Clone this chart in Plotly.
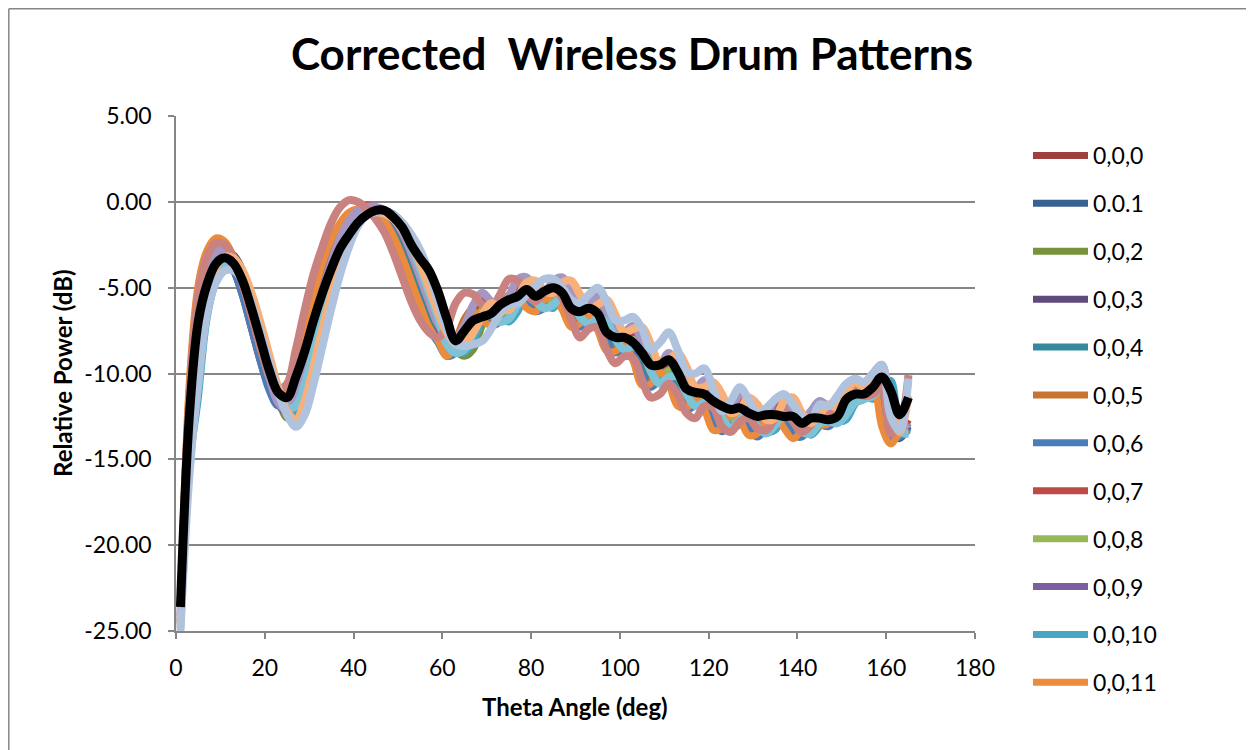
import plotly.graph_objects as go

theta = [1, 3, 5, 7, 9, 11, 13, 15, 17, 19, 21, 23, 25, 27, 29, 31, 33, 35, 37, 39,
         41, 43, 45, 47, 49, 51, 53, 55, 57, 59, 61, 63, 65, 67, 69, 71, 73, 75, 77, 79,
         81, 83, 85, 87, 89, 91, 93, 95, 97, 99, 101, 103, 105, 107, 109, 111, 113, 115, 117, 119,
         121, 123, 125, 127, 129, 131, 133, 135, 137, 139, 141, 143, 145, 147, 149, 151, 153, 155, 157, 159,
         161, 163, 165]

s000 = [-24.2, -12.0, -5.7, -3.7, -2.9, -3.1, -4.0, -5.5, -7.4, -9.3, -10.9, -11.8, -11.5, -10.1, -8.2, -6.3, -4.5, -2.9, -1.7, -0.9,
        -0.5, -0.4, -0.5, -0.9, -1.6, -2.6, -3.9, -5.3, -6.7, -7.7, -8.4, -8.2, -7.2, -6.3, -6.2, -6.6, -6.4, -5.6, -5.1, -5.4,
        -5.8, -5.6, -5.1, -5.4, -6.3, -6.7, -6.4, -6.6, -7.6, -8.2, -8.0, -8.3, -9.5, -10.2, -9.8, -9.8, -10.8, -11.5, -11.3, -11.3,
        -12.2, -12.8, -12.3, -12.0, -12.7, -13.1, -12.6, -12.0, -12.3, -13.0, -13.1, -12.5, -12.4, -12.5, -12.0, -11.3, -11.1, -10.9, -10.4, -11.4,
        -13.2, -13.4, -13.0]
s001 = [-24.0, -13.0, -7.0, -4.3, -3.0, -2.8, -3.4, -4.6, -6.4, -8.3, -10.2, -11.6, -12.0, -11.0, -9.2, -7.2, -5.3, -3.6, -2.2, -1.2,
        -0.6, -0.4, -0.4, -0.6, -1.1, -2.0, -3.2, -4.6, -6.0, -7.3, -8.4, -8.6, -7.9, -6.7, -6.0, -6.5, -6.8, -6.2, -5.2, -5.1,
        -5.8, -6.0, -5.3, -5.1, -5.9, -6.9, -6.7, -6.2, -7.1, -8.3, -8.3, -7.9, -8.9, -10.3, -10.2, -9.5, -10.2, -11.5, -11.6, -11.1,
        -11.7, -12.9, -12.8, -11.9, -12.3, -13.2, -13.1, -12.2, -12.0, -12.8, -13.4, -12.9, -12.3, -12.6, -12.5, -11.6, -11.1, -11.3, -10.7, -10.2,
        -12.7, -13.8, -13.1]
s002 = [-24.3, -14.0, -10.0, -5.7, -3.7, -2.9, -3.1, -4.0, -5.5, -7.4, -9.5, -11.4, -12.6, -12.2, -10.6, -8.4, -6.3, -4.5, -2.9, -1.7,
        -0.9, -0.5, -0.4, -0.5, -0.9, -1.6, -2.6, -3.9, -5.3, -6.7, -7.9, -8.7, -9.0, -8.6, -7.2, -6.2, -6.4, -6.3, -5.6, -4.9,
        -5.2, -5.9, -5.8, -5.0, -5.3, -6.2, -6.6, -6.2, -6.4, -7.5, -8.1, -7.9, -8.2, -9.4, -10.1, -9.7, -9.7, -10.7, -11.4, -11.2,
        -11.3, -12.2, -12.8, -12.3, -12.0, -12.7, -13.1, -12.6, -12.0, -12.3, -13.0, -13.1, -12.5, -12.3, -12.4, -11.9, -11.2, -11.1, -10.9, -10.3,
        -11.3, -13.1, -13.3]
s003 = [-24.4, -14.2, -9.8, -5.6, -3.6, -2.9, -3.1, -4.0, -5.5, -7.3, -9.2, -10.9, -11.8, -11.6, -10.2, -8.2, -6.2, -4.4, -2.9, -1.7,
        -0.9, -0.5, -0.4, -0.5, -0.8, -1.5, -2.6, -3.9, -5.3, -6.6, -7.5, -8.0, -7.8, -6.8, -5.9, -5.8, -6.2, -6.0, -5.2, -4.7,
        -5.0, -5.4, -5.2, -4.7, -5.0, -5.9, -6.3, -6.0, -6.2, -7.2, -7.8, -7.6, -7.9, -9.1, -9.8, -9.4, -9.4, -10.4, -11.1, -10.9,
        -10.9, -11.8, -12.4, -11.9, -11.6, -12.3, -12.7, -12.2, -11.6, -11.9, -12.6, -12.7, -12.1, -12.0, -12.1, -11.6, -10.9, -10.7, -10.5, -10.0,
        -11.0, -12.8, -13.0]
s004 = [-24.1, -12.2, -6.0, -3.9, -3.1, -3.2, -4.0, -5.4, -7.3, -9.2, -10.8, -11.7, -11.4, -10.0, -8.1, -6.2, -4.4, -2.9, -1.8, -1.0,
        -0.6, -0.5, -0.6, -0.9, -1.6, -2.6, -3.9, -5.3, -6.7, -7.8, -8.6, -8.4, -7.4, -6.5, -6.4, -6.8, -6.6, -5.8, -5.3, -5.6,
        -6.0, -5.8, -5.3, -5.6, -6.5, -6.9, -6.6, -6.8, -7.8, -8.4, -8.2, -8.5, -9.7, -10.4, -10.0, -10.0, -11.0, -11.7, -11.5, -11.5,
        -12.4, -13.0, -12.5, -12.2, -12.9, -13.3, -12.8, -12.2, -12.5, -13.2, -13.3, -12.7, -12.6, -12.7, -12.2, -11.5, -11.3, -11.1, -10.6, -11.6,
        -13.4, -13.5, -12.9]
s005 = [-23.8, -11.0, -5.2, -3.2, -2.4, -2.6, -3.5, -5.0, -6.9, -8.9, -10.6, -11.6, -11.2, -9.6, -7.5, -5.5, -3.8, -2.4, -1.3, -0.7,
        -0.5, -0.5, -0.7, -1.2, -2.1, -3.3, -4.7, -6.1, -7.3, -8.1, -8.6, -8.0, -6.8, -6.2, -6.7, -7.0, -6.4, -5.4, -5.3, -6.0,
        -6.2, -5.5, -5.3, -6.1, -7.1, -6.9, -6.4, -7.3, -8.5, -8.5, -8.1, -9.1, -10.5, -10.4, -9.7, -10.4, -11.7, -11.8, -11.3, -11.9,
        -13.1, -13.0, -12.1, -12.5, -13.4, -13.3, -12.4, -12.2, -13.0, -13.6, -13.1, -12.5, -12.8, -12.7, -11.8, -11.3, -11.5, -10.9, -10.4, -12.9,
        -14.0, -13.3, -13.0]
s006 = [-24.2, -11.5, -5.7, -3.7, -2.9, -3.1, -4.0, -5.5, -7.4, -9.3, -11.0, -11.9, -11.3, -9.3, -7.3, -5.4, -3.7, -2.3, -1.3, -0.7,
        -0.5, -0.5, -0.7, -1.2, -2.1, -3.3, -4.7, -6.1, -7.4, -8.2, -9.0, -8.8, -7.8, -6.9, -6.8, -7.2, -7.0, -6.2, -5.7, -6.0,
        -6.4, -6.2, -5.7, -6.0, -6.9, -7.3, -7.0, -7.2, -8.2, -8.8, -8.6, -8.9, -10.1, -10.8, -10.4, -10.4, -11.4, -12.1, -11.9, -11.9,
        -12.8, -13.4, -12.9, -12.6, -13.3, -13.7, -13.2, -12.6, -12.9, -13.6, -13.7, -13.1, -13.0, -13.1, -12.6, -11.9, -11.7, -11.5, -11.0, -12.0,
        -13.8, -13.7, -13.2]
s007 = [-24.0, -12.8, -6.8, -4.1, -2.9, -2.7, -3.3, -4.5, -6.3, -8.2, -10.1, -11.5, -11.9, -10.9, -9.0, -7.0, -5.1, -3.4, -2.0, -1.0,
        -0.4, -0.2, -0.3, -0.5, -1.0, -1.9, -3.1, -4.5, -5.9, -7.2, -8.0, -8.2, -7.5, -6.3, -5.6, -6.1, -6.4, -5.8, -4.8, -4.7,
        -5.4, -5.6, -4.9, -4.7, -5.5, -6.5, -6.3, -5.8, -6.7, -7.9, -7.9, -7.5, -8.5, -9.9, -9.8, -9.1, -9.8, -11.1, -11.2, -10.7,
        -11.3, -12.5, -12.4, -11.5, -11.9, -12.8, -12.7, -11.8, -11.6, -12.4, -13.0, -12.5, -11.9, -12.2, -12.1, -11.2, -10.7, -10.9, -10.3, -9.8,
        -12.3, -13.4, -12.7]
s008 = [-24.5, -14.3, -10.2, -5.8, -3.8, -3.0, -3.2, -4.1, -5.6, -7.4, -9.3, -11.0, -11.9, -11.6, -10.2, -8.3, -6.3, -4.5, -3.0, -1.8,
        -1.0, -0.6, -0.5, -0.6, -0.9, -1.6, -2.7, -4.0, -5.4, -6.8, -7.9, -8.4, -8.2, -7.2, -6.3, -6.2, -6.6, -6.4, -5.6, -5.1,
        -5.4, -5.8, -5.6, -5.1, -5.4, -6.3, -6.7, -6.4, -6.6, -7.6, -8.2, -8.0, -8.3, -9.5, -10.2, -9.8, -9.8, -10.8, -11.5, -11.3,
        -11.3, -12.2, -12.8, -12.3, -12.0, -12.7, -13.1, -12.6, -12.0, -12.3, -13.0, -13.1, -12.5, -12.4, -12.5, -12.0, -11.3, -11.1, -10.9, -10.4,
        -11.4, -13.2, -13.4]
s009 = [-24.3, -13.3, -7.3, -4.5, -3.2, -3.0, -3.5, -4.7, -6.5, -8.4, -10.3, -11.8, -12.3, -11.3, -9.5, -7.5, -5.6, -3.9, -2.5, -1.4,
        -0.8, -0.6, -0.5, -0.7, -1.1, -1.9, -3.0, -4.3, -5.7, -7.0, -7.8, -8.0, -7.3, -6.1, -5.4, -5.9, -6.2, -5.6, -4.6, -4.5,
        -5.2, -5.4, -4.7, -4.5, -5.3, -6.3, -6.1, -5.6, -6.5, -7.7, -7.7, -7.3, -8.3, -9.7, -9.6, -8.9, -9.6, -10.9, -11.0, -10.5,
        -11.1, -12.3, -12.2, -11.3, -11.7, -12.6, -12.5, -11.6, -11.4, -12.2, -12.8, -12.3, -11.7, -12.0, -11.9, -11.0, -10.5, -10.7, -10.1, -9.6,
        -12.1, -13.2, -13.1]
s010 = [-24.8, -15.5, -11.5, -6.8, -4.7, -4.0, -4.0, -4.6, -5.8, -7.5, -9.3, -11.0, -12.2, -12.4, -11.2, -9.2, -7.2, -5.3, -3.6, -2.3,
        -1.3, -0.7, -0.5, -0.5, -0.7, -1.2, -2.1, -3.3, -4.7, -6.1, -7.8, -8.6, -8.8, -8.1, -6.9, -6.2, -6.7, -7.0, -6.4, -5.4,
        -5.3, -6.0, -6.2, -5.5, -5.3, -6.1, -7.1, -6.9, -6.4, -7.3, -8.5, -8.5, -8.1, -9.1, -10.5, -10.4, -9.7, -10.4, -11.7, -11.8,
        -11.3, -11.9, -13.1, -13.0, -12.1, -12.5, -13.4, -13.3, -12.4, -12.2, -13.0, -13.6, -13.1, -12.5, -12.8, -12.7, -11.8, -11.3, -11.5, -10.9,
        -10.4, -12.9, -13.6]
s011 = [-23.6, -10.5, -4.8, -2.8, -2.1, -2.3, -3.2, -4.7, -6.6, -8.5, -10.3, -11.3, -11.0, -9.4, -7.4, -5.4, -3.6, -2.2, -1.2, -0.6,
        -0.4, -0.4, -0.6, -1.1, -2.0, -3.2, -4.6, -6.0, -7.3, -8.1, -9.0, -8.3, -7.1, -6.4, -6.9, -7.2, -6.6, -5.6, -5.5, -6.2,
        -6.4, -5.7, -5.5, -6.3, -7.3, -7.1, -6.6, -7.5, -8.7, -8.7, -8.3, -9.3, -10.7, -10.6, -9.9, -10.6, -11.9, -12.0, -11.5, -12.1,
        -13.3, -13.2, -12.3, -12.7, -13.6, -13.5, -12.6, -12.4, -13.2, -13.8, -13.3, -12.7, -13.0, -12.9, -12.0, -11.5, -11.7, -11.1, -10.6, -13.1,
        -14.1, -13.5, -13.3]
s012 = [-24.1, -12.6, -6.6, -4.0, -2.9, -2.8, -3.4, -4.6, -6.4, -8.3, -10.2, -11.7, -12.1, -11.1, -9.2, -7.1, -5.2, -3.5, -2.1, -1.1,
        -0.5, -0.3, -0.3, -0.5, -1.0, -1.8, -3.0, -4.4, -5.8, -7.1, -7.7, -7.9, -7.2, -6.0, -5.3, -5.8, -6.1, -5.5, -4.5, -4.4,
        -5.1, -5.3, -4.6, -4.4, -5.2, -6.2, -6.0, -5.5, -6.4, -7.6, -7.6, -7.2, -8.2, -9.6, -9.5, -8.8, -9.5, -10.8, -10.9, -10.4,
        -11.0, -12.2, -12.1, -11.2, -11.6, -12.5, -12.4, -11.5, -11.3, -12.1, -12.7, -12.2, -11.6, -11.9, -11.8, -10.9, -10.4, -10.6, -10.0, -9.5,
        -12.0, -13.1, -12.9]
s013 = [-24.6, -14.8, -10.8, -6.2, -4.3, -3.7, -3.8, -4.5, -5.8, -7.5, -9.3, -11.0, -12.0, -11.9, -10.6, -8.7, -6.7, -4.8, -3.2, -2.0,
        -1.1, -0.7, -0.6, -0.7, -1.0, -1.6, -2.6, -3.9, -5.3, -6.7, -8.3, -8.8, -8.6, -7.6, -6.7, -6.6, -7.0, -6.8, -6.0, -5.5,
        -5.8, -6.2, -6.0, -5.5, -5.8, -6.7, -7.1, -6.8, -7.0, -8.0, -8.6, -8.4, -8.7, -9.9, -10.6, -10.2, -10.2, -11.2, -11.9, -11.7,
        -11.7, -12.6, -13.2, -12.7, -12.4, -13.1, -13.5, -13.0, -12.4, -12.7, -13.4, -13.5, -12.9, -12.8, -12.9, -12.4, -11.7, -11.5, -11.3, -10.8,
        -11.8, -13.4, -13.5]
s014 = [-24.5, -11.5, -5.5, -3.2, -2.4, -2.5, -3.3, -4.8, -6.6, -8.5, -10.0, -10.9, -10.6, -8.6, -6.3, -4.2, -2.6, -1.2, -0.3, 0.1,
        0.0, -0.4, -1.0, -1.8, -3.0, -4.4, -5.8, -6.9, -7.6, -7.9, -7.3, -5.9, -5.3, -5.4, -6.0, -6.2, -5.4, -4.5, -4.6, -5.4,
        -5.8, -5.2, -5.0, -5.6, -6.8, -7.9, -7.4, -7.3, -8.6, -9.4, -9.0, -9.1, -10.4, -11.4, -11.2, -10.6, -11.2, -12.3, -12.6, -11.9,
        -12.0, -13.1, -13.4, -12.8, -12.6, -13.2, -13.3, -12.6, -12.2, -12.8, -13.4, -13.0, -12.3, -12.2, -12.0, -11.4, -11.0, -11.3, -11.2, -10.8,
        -13.5, -13.0, -10.1]
s015 = [-24.8, -15.0, -9.5, -5.5, -3.8, -3.2, -3.3, -4.0, -5.3, -7.0, -8.9, -10.8, -12.2, -12.7, -11.6, -9.6, -7.4, -5.4, -3.6, -2.2,
        -1.2, -0.7, -0.6, -0.7, -1.0, -1.6, -2.5, -3.6, -5.0, -6.4, -7.6, -8.3, -8.2, -7.6, -6.6, -5.9, -6.2, -6.3, -5.6, -4.7,
        -4.6, -5.2, -5.3, -4.7, -4.6, -5.4, -6.3, -6.0, -5.7, -6.6, -7.6, -7.4, -7.3, -8.3, -9.4, -9.2, -8.8, -9.6, -10.8, -10.8,
        -10.5, -11.2, -12.3, -12.1, -11.4, -11.8, -12.7, -12.6, -11.6, -11.4, -12.3, -12.9, -12.4, -11.8, -12.0, -11.1, -10.5, -10.8, -10.2, -9.6,
        -11.8, -13.4, -11.3]
s016 = [-25.0, -16.0, -10.5, -6.5, -4.7, -4.0, -4.0, -4.6, -5.9, -7.6, -9.4, -11.1, -12.4, -13.1, -12.4, -10.6, -8.4, -6.2, -4.2, -2.6,
        -1.4, -0.8, -0.6, -0.6, -0.8, -1.2, -1.9, -2.8, -4.1, -5.8, -7.4, -8.3, -8.4, -8.3, -8.1, -7.4, -6.5, -6.0, -5.9, -5.4,
        -4.9, -4.5, -4.5, -5.0, -5.7, -5.9, -5.4, -5.0, -5.8, -6.9, -6.9, -6.7, -7.4, -8.6, -8.2, -7.6, -8.6, -9.9, -10.0, -9.7,
        -10.9, -12.2, -11.6, -10.8, -11.5, -12.3, -12.0, -11.5, -11.2, -11.8, -12.5, -12.7, -11.8, -11.9, -11.3, -10.6, -10.3, -10.5, -10.0, -9.5,
        -12.5, -13.3, -10.3]
average = [-23.6, -12.5, -7.0, -4.8, -3.6, -3.25, -3.6, -4.6, -6.2, -8.0, -9.8, -11.1, -11.4, -10.2, -8.7, -6.9, -5.3, -3.9, -2.7, -1.9,
           -1.2, -0.75, -0.5, -0.5, -0.9, -1.5, -2.5, -3.3, -4.0, -5.2, -6.8, -8.1, -7.5, -6.9, -6.7, -6.5, -6.0, -5.7, -5.5, -5.1,
           -5.5, -5.2, -5.0, -5.3, -6.2, -6.4, -6.2, -6.5, -7.6, -7.9, -7.9, -8.2, -8.8, -9.5, -9.5, -9.2, -9.9, -10.9, -11.1, -11.2,
           -11.6, -11.9, -12.1, -12.0, -12.3, -12.5, -12.4, -12.4, -12.5, -12.5, -12.9, -12.6, -12.6, -12.7, -12.5, -11.5, -11.2, -11.2, -10.8, -10.2,
           -11.0, -12.4, -11.4]

legend_names = ["0,0,0", "0.0.1", "0,0,2", "0,0,3", "0,0,4", "0,0,5",
                "0,0,6", "0,0,7", "0,0,8", "0,0,9", "0,0,10", "0,0,11"]
legend_series = [s000, s001, s002, s003, s004, s005, s006, s007, s008, s009, s010, s011]
legend_colors = ["#A0403E", "#3A6291", "#77923D", "#5F4A7B", "#348A9C", "#C8742F",
                 "#4A7DBA", "#BC4A47", "#97B758", "#7B5F9E", "#45A7C3", "#EA8B3E"]
extra_names = ["0,0,12", "0,0,13", "0,0,14", "0,0,15", "0,0,16"]
extra_series = [s012, s013, s014, s015, s016]
extra_colors = ["#A696C2", "#7DC2D7", "#C98280", "#F8B07B", "#AFC3DE"]

y_tick_vals = [5, 0, -5, -10, -15, -20, -25]
y_tick_text = ["5.00", "0.00", "-5.00", "-10.00", "-15.00", "-20.00", "-25.00"]

FONT = "Lato"
fig = go.Figure()
for name, vals, col in zip(legend_names, legend_series, legend_colors):
    fig.add_trace(go.Scatter(x=theta, y=vals, name=name, mode="lines",
                             line=dict(color=col, width=7, shape="spline", smoothing=1.0),
                             legendgroup=name))
for name, vals, col in zip(extra_names, extra_series, extra_colors):
    fig.add_trace(go.Scatter(x=theta, y=vals, name=name, mode="lines", showlegend=False,
                             line=dict(color=col, width=8, shape="spline", smoothing=1.0)))
fig.add_trace(go.Scatter(x=theta, y=average, name="Average", mode="lines", showlegend=False,
                         line=dict(color="#000000", width=9, shape="spline", smoothing=1.0)))

# page is offset by the 8px body margin
OFF = 8
W, H = 1246, 742
L, T = 176 - OFF, 116 - OFF
pw, ph = 799, 515
R, B = W - L - pw, H - T - ph


def px(xp):
    return (xp - OFF - L) / pw


def py(yp):
    return (H - B - (yp - OFF)) / ph


fig.update_layout(
    width=W, height=H,
    margin=dict(l=L, r=R, t=T, b=B),
    paper_bgcolor="white", plot_bgcolor="white",
    font=dict(family=FONT, color="black", size=23),
    title=dict(text="<b>Corrected \u00a0Wireless Drum Patterns</b>", x=(632 - OFF) / W, xanchor="center",
               y=1 - (55 - OFF) / H, yanchor="middle", font=dict(size=44, family=FONT, color="black")),
    legend=dict(x=px(1028), y=py(134), xanchor="left", yanchor="top",
                font=dict(size=23, family=FONT, color="black"),
                tracegroupgap=15, itemwidth=55, maxheight=720, bgcolor="rgba(0,0,0,0)"),
    showlegend=True,
)
fig.update_xaxes(range=[0, 180], dtick=20, tick0=0, showgrid=False, zeroline=False,
                 showline=True, linecolor="#868686", linewidth=1.5,
                 ticks="outside", ticklen=6, tickcolor="#868686", tickwidth=1.5,
                 ticklabelstandoff=10, tickfont=dict(size=23, family=FONT))
fig.update_yaxes(range=[-25, 5], tickvals=y_tick_vals, ticktext=y_tick_text, showgrid=True,
                 gridcolor="#868686", gridwidth=1.5, zeroline=False,
                 showline=True, linecolor="#868686", linewidth=1.5,
                 ticks="outside", ticklen=6, tickcolor="#868686", tickwidth=1.5,
                 ticklabelstandoff=12, tickfont=dict(size=23, family=FONT))

fig.add_annotation(text="<b>Theta Angle (deg)</b>", x=px(575), y=py(706), xref="paper", yref="paper",
                   showarrow=False, xanchor="center", yanchor="middle", font=dict(size=24, family=FONT))
fig.add_annotation(text="<b>Relative Power (dB)</b>", x=px(62), y=py(373), xref="paper", yref="paper",
                   showarrow=False, xanchor="center", yanchor="middle", textangle=-90,
                   font=dict(size=24, family=FONT))
# outer chart border (left and top edges visible)
fig.add_shape(type="line", xref="paper", yref="paper", x0=px(8.8), x1=px(8.8), y0=py(8.8), y1=py(760),
              line=dict(color="#868686", width=1.5))
fig.add_shape(type="line", xref="paper", yref="paper", x0=px(8.8), x1=px(1260), y0=py(8.8), y1=py(8.8),
              line=dict(color="#868686", width=1.5))

fig.write_html("out.html")
